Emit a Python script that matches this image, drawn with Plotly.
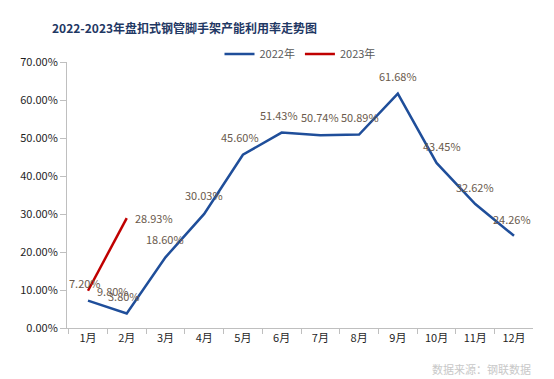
import plotly.graph_objects as go

months = ["1月", "2月", "3月", "4月", "5月", "6月", "7月", "8月", "9月", "10月", "11月", "12月"]
y2022 = [0.0720, 0.0380, 0.1860, 0.3003, 0.4560, 0.5143, 0.5074, 0.5089, 0.6168, 0.4345, 0.3262, 0.2426]
months2023 = ["1月", "2月"]
y2023 = [0.0980, 0.2893]

# label offsets (pixels, x right / y down) per point
off2022 = [(-3, -18), (-3, -18), (0, -18), (0, -19), (-3, -18), (-3, -18), (0, -18), (1, -18),
           (0, -18), (5, -17), (0, -17), (-2, -17)]
off2023 = [(25, 0), (27, 0)]

FONT = "Noto Sans CJK SC, Noto Sans, sans-serif"
LBL = "#6A5A4C"

fig = go.Figure()
fig.add_trace(go.Scatter(x=months, y=y2022, mode="lines", name="2022年",
                         line=dict(color="#1F4E9A", width=2.5)))
fig.add_trace(go.Scatter(x=months2023, y=y2023, mode="lines", name="2023年",
                         line=dict(color="#C00000", width=2.5)))

for m, v, (dx, dy) in zip(months, y2022, off2022):
    fig.add_annotation(x=m, y=v, text=f"{v*100:.2f}%", showarrow=False,
                       xshift=dx, yshift=-dy, font=dict(color=LBL, size=11, family=FONT))
for m, v, (dx, dy) in zip(months2023, y2023, off2023):
    fig.add_annotation(x=m, y=v, text=f"{v*100:.2f}%", showarrow=False,
                       xshift=dx, yshift=-dy, font=dict(color=LBL, size=11, family=FONT))

fig.add_annotation(xref="paper", yref="paper", x=-0.036, y=1.128, xanchor="left", yanchor="middle",
                   text="<b>2022-2023年盘扣式钢管脚手架产能利用率走势图</b>", showarrow=False,
                   font=dict(color="#1F3864", size=12, family=FONT))
fig.add_annotation(xref="paper", yref="paper", x=1.0, y=-0.154, xanchor="right", yanchor="middle",
                   text="数据来源：钢联数据", showarrow=False,
                   font=dict(color="#C8C8C8", size=11, family=FONT))

fig.update_layout(
    width=554, height=379,
    margin=dict(l=59, r=29, t=54, b=59),
    paper_bgcolor="white", plot_bgcolor="white",
    font=dict(family=FONT, size=11, color="#333333"),
    showlegend=True,
    legend=dict(orientation="h", x=0.5, xanchor="center", y=1.03, yanchor="middle",
                font=dict(size=11, color="#595959"), itemwidth=30),
    xaxis=dict(type="category", showgrid=False, showline=True, linecolor="#BFBFBF",
               ticks="outside", tickson="boundaries", ticklen=5, tickcolor="#BFBFBF",
               automargin=False, tickfont=dict(size=11, color="#1F1F1F")),
    yaxis=dict(range=[0, 0.70], dtick=0.10, tickformat=".2%", showgrid=False,
               showline=True, linecolor="#BFBFBF", ticks="outside", ticklen=6,
               tickcolor="#BFBFBF", zeroline=False, automargin=False,
               tickfont=dict(size=11, color="#1F1F1F")),
)

fig.write_html("out.html")
